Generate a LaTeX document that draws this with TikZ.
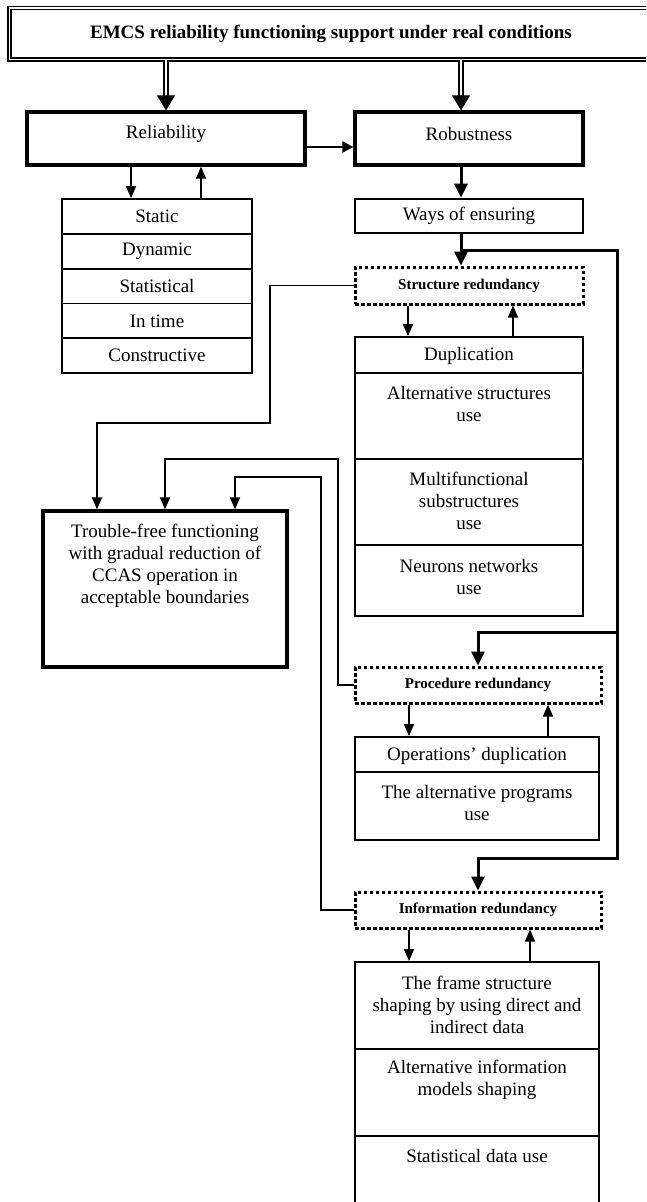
\documentclass[tikz,border=0pt]{standalone}
\usepackage{fontspec}
\setmainfont{Liberation Serif}
\usetikzlibrary{arrows.meta}
\begin{document}
\begin{tikzpicture}[x=1pt,y=-1pt,
  txt/.style={font=\fontsize{19}{22}\selectfont, align=center, inner sep=0pt},
  lbl/.style={font=\fontsize{15}{18}\selectfont\bfseries, inner sep=0pt},
  bigbox/.style={draw, line width=3.3pt, inner sep=0pt},
  midbox/.style={draw, line width=2.6pt, inner sep=0pt},
  rowbox/.style={draw, line width=1.8pt, inner sep=0pt},
  dotbox/.style={draw, line width=3pt, dash pattern=on 3.5pt off 2.5pt, inner sep=0pt},
  thinarr/.style={line width=1.6pt, -{Triangle[length=12pt,width=10pt]}},
  thk/.style={line width=3pt},
  thkarr/.style={thk, -{Triangle[length=14pt,width=13pt]}},
  dbl/.style={draw, double=white, line width=2pt, double distance=2.5pt},
  bigtip/.style={line width=1pt, -{Triangle[length=15pt,width=18pt]}},
]
\useasboundingbox (0,0) rectangle (646,1202);
\clip (0,0) rectangle (646,1202);

% title
\node[draw, double=white, line width=1.8pt, double distance=1.2pt,
      minimum width=643pt, minimum height=51.5pt, inner sep=0pt,
      font=\fontsize{19}{22}\selectfont\bfseries] (title) at (331,33.75)
      {EMCS reliability functioning support under real conditions};

% top level
\node[bigbox, minimum width=278pt, minimum height=53pt] (rel) at (166,138.5) {};
\node[txt] (relt) at (166,134) {Reliability};
\node[bigbox, minimum width=228pt, minimum height=53pt] (rob) at (469,138.5) {};
\node[txt] (robt) at (469,134) {Robustness};

% list under reliability
\node[rowbox, txt, minimum width=190pt, minimum height=34.8pt] (l1) at (157,216.4) {Static};
\node[rowbox, txt, minimum width=190pt, minimum height=34.8pt] (l2) at (157,251.2) {Dynamic};
\node[rowbox, txt, minimum width=190pt, minimum height=34.8pt] (l3) at (157,286.0) {Statistical};
\node[rowbox, txt, minimum width=190pt, minimum height=34.8pt] (l4) at (157,320.8) {In time};
\node[rowbox, txt, minimum width=190pt, minimum height=34.8pt] (l5) at (157,355.6) {Constructive};

% ways of ensuring
\node[midbox, txt, minimum width=228pt, minimum height=34pt] (ways) at (469,216) {Ways of ensuring};

% structure redundancy
\node[dotbox, lbl, minimum width=228pt, minimum height=37pt] (struct) at (469,285.5) {Structure redundancy};
\node[rowbox, minimum width=228pt, minimum height=36pt] (d1) at (469,355) {};
\node[txt] (d1t) at (469,356) {Duplication};
\node[rowbox, minimum width=228pt, minimum height=86pt] (d2) at (469,416) {};
\node[txt] (d2t) at (469,404) {Alternative structures\\use};
\node[rowbox, minimum width=228pt, minimum height=86pt] (d3) at (469,502) {};
\node[txt] (d3t) at (469,501) {Multifunctional\\substructures\\use};
\node[rowbox, minimum width=228pt, minimum height=71pt] (d4) at (469,580.5) {};
\node[txt] (d4t) at (469,577) {Neurons networks\\use};

% trouble-free
\node[bigbox, minimum width=244pt, minimum height=156pt] (tf) at (165,589) {};
\node[txt] (tft) at (165,566) {Trouble-free functioning\\with gradual reduction of\\CCAS operation in\\acceptable boundaries};

% procedure redundancy
\node[dotbox, lbl, minimum width=246pt, minimum height=36pt] (proc) at (478,685) {Procedure redundancy};
\node[rowbox, minimum width=244pt, minimum height=35pt] (o1) at (477,754.5) {};
\node[txt] (o1t) at (477,756) {Operations’ duplication};
\node[rowbox, minimum width=244pt, minimum height=68pt] (o2) at (477,806) {};
\node[txt] (o2t) at (477,803) {The alternative programs\\use};

% information redundancy
\node[dotbox, lbl, minimum width=246pt, minimum height=36pt] (info) at (478,910) {Information redundancy};
\node[rowbox, minimum width=244pt, minimum height=87pt] (b1) at (477,1005.5) {};
\node[txt] (b1t) at (477,1005) {The frame structure\\shaping by using direct and\\indirect data};
\node[rowbox, minimum width=244pt, minimum height=87pt] (b2) at (477,1092.5) {};
\node[txt] (b2t) at (477,1080) {Alternative information\\models shaping};
\node[rowbox, minimum width=244pt, minimum height=79pt] (b3) at (477,1175.5) {};
\node[txt] (b3t) at (477,1156) {Statistical data use};

% double arrows from the title
\draw[dbl] (rel.north |- title.south) -- ([yshift=14pt]rel.north);
\draw[bigtip] ([yshift=15pt]rel.north) -- (rel.north);
\draw[dbl] ([xshift=-8pt]rob.north |- title.south) -- ([xshift=-8pt,yshift=14pt]rob.north);
\draw[bigtip] ([xshift=-8pt,yshift=15pt]rob.north) -- ([xshift=-8pt]rob.north);

% reliability -> robustness
\draw[line width=2pt, -{Triangle[length=11pt,width=11pt]}] ([yshift=-8.5pt]rel.east) -- ([yshift=-8.5pt]rob.west);

% reliability <-> list
\draw[thinarr] ([xshift=-35pt]rel.south) -- ([xshift=-35pt]rel.south |- l1.north);
\draw[thinarr] ([xshift=35pt]rel.south |- l1.north) -- ([xshift=35pt]rel.south);

% robustness -> ways -> structure
\draw[thkarr] ([xshift=-8pt]rob.south) -- ([xshift=-8pt]rob.south |- ways.north);
\draw[thkarr] ([xshift=-8pt]ways.south) -- ([xshift=-8pt]ways.south |- struct.north);

% right thick branch
\coordinate (j1) at (461,250);
\coordinate (r1) at (617,250);
\coordinate (r2) at (617,632);
\coordinate (r3) at (617,858);
\draw[thkarr] (j1) -- (r1) -- (r2) -- (r2 -| proc.north) -- (proc.north);
\draw[thkarr] (r2) -- (r3) -- (r3 -| info.north) -- (info.north);

% structure <-> duplication
\draw[thinarr] ([xshift=-61pt]struct.south) -- ([xshift=-61pt]struct.south |- d1.north);
\draw[thinarr] ([xshift=44pt]struct.south |- d1.north) -- ([xshift=44pt]struct.south);

% procedure <-> operations
\draw[thinarr] ([xshift=-69pt]proc.south) -- ([xshift=-69pt]proc.south |- o1.north);
\draw[thinarr] ([xshift=70pt]proc.south |- o1.north) -- ([xshift=70pt]proc.south);

% information <-> bottom box
\draw[thinarr] ([xshift=-69pt]info.south) -- ([xshift=-69pt]info.south |- b1.north);
\draw[thinarr] ([xshift=52pt]info.south |- b1.north) -- ([xshift=52pt]info.south);

% connectors into trouble-free box
\coordinate (a1) at (270,423);
\coordinate (a2) at (338,459);
\coordinate (a3) at (321,477);
\draw[thinarr] (struct.west) -| (a1) -| ([xshift=-68pt]tf.north);
\draw[thinarr] (proc.west) -| (a2) -| (tf.north);
\draw[thinarr] (info.west) -| (a3) -| ([xshift=70pt]tf.north);
\end{tikzpicture}
\end{document}
